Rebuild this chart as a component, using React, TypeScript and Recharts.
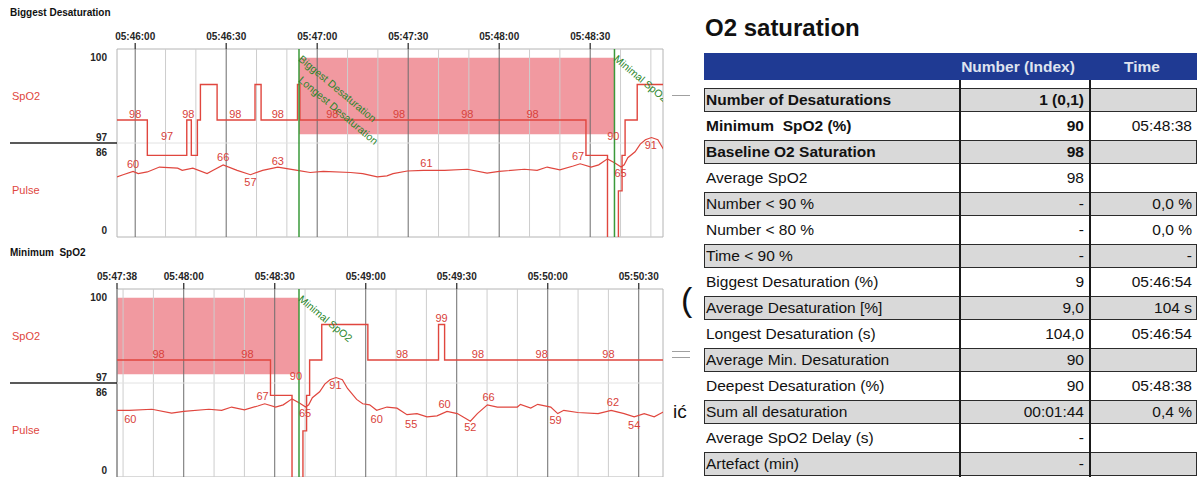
import React from 'react';
import { ComposedChart, Line, XAxis, YAxis, ReferenceLine, ReferenceArea, ReferenceDot } from 'recharts';

// ---------- data ----------
const spo2Times = ['05:45:54', '05:46:04', '05:46:17', '05:46:18.5', '05:46:20.5', '05:46:21.5', '05:46:27', '05:46:39.5', '05:46:41.5', '05:46:53.5', '05:46:54.3', '05:48:28.6', '05:48:35.7', '05:48:39.3', '05:48:40.5', '05:48:41.5', '05:48:45.5', '05:49:00.7', '05:49:24', '05:49:26', '05:50:38.5'];
const spo2Values = [98, 97, 98, 97, 98, 99, 98, 99, 98, 99, 98, 97, 90, 96, 97, 98, 99, 98, 99, 98, 98];

const pulseTimes = ['05:45:54', '05:45:56', '05:45:59.3', '05:46:01', '05:46:04', '05:46:08', '05:46:14', '05:46:15.5', '05:46:19', '05:46:23.7', '05:46:25.7', '05:46:29', '05:46:33.6', '05:46:38', '05:46:42', '05:46:47', '05:46:49', '05:46:53.5', '05:46:57.7', '05:47:02', '05:47:11', '05:47:15', '05:47:19.8', '05:47:23', '05:47:25', '05:47:29.7', '05:47:35', '05:47:42', '05:47:49.5', '05:47:56', '05:48:00', '05:48:08.3', '05:48:12.5', '05:48:15.8', '05:48:20', '05:48:24.4', '05:48:26.7', '05:48:30.3', '05:48:32.8', '05:48:35.7', '05:48:38', '05:48:40.2', '05:48:41.2', '05:48:42.4', '05:48:44.8', '05:48:46.5', '05:48:48.2', '05:48:50.2', '05:48:52.3', '05:48:54', '05:48:57', '05:48:59', '05:49:01.3', '05:49:03.6', '05:49:07', '05:49:10.3', '05:49:13.6', '05:49:16.9', '05:49:20.2', '05:49:23.5', '05:49:26.8', '05:49:30.2', '05:49:34.5', '05:49:36.8', '05:49:40.1', '05:49:43.4', '05:49:50', '05:49:51', '05:49:54.4', '05:49:56.7', '05:50:01', '05:50:03.3', '05:50:05.3', '05:50:09.9', '05:50:16.6', '05:50:20.9', '05:50:25.2', '05:50:28.5', '05:50:31.8', '05:50:35.1', '05:50:38.4'];
const pulseValues = [55, 57, 60, 58, 59.5, 64, 63, 61, 63, 58, 61, 66, 61, 57, 61, 64, 63, 61, 59, 60, 59, 58, 55, 56, 58, 60.4, 61, 61, 62, 58.5, 60, 62, 61, 64, 61.5, 65, 67, 64, 66, 71.5, 68, 64, 66, 72.5, 78, 85, 89, 91, 89, 81, 71, 67, 66, 61, 64, 63, 57, 58, 55, 56, 60, 58, 51, 58, 66, 64, 64, 66.5, 63, 66.5, 64, 58, 61, 59, 58, 61, 58, 55, 58, 55, 60];

const spo2Domain = [94.7, 100];
const pulseDomain = [0, 172];
const sectionBoundary = 86; // pulse value at the SpO2 / Pulse section border
const spo2AxisLabels = ['100', '97'];
const pulseAxisLabels = ['86', '0'];
const desatBand = { start: '05:46:54', end: '05:48:38', low: 97.6, high: 99.75 };

const topDomain = ['05:45:54', '05:48:54'];
const topTicks = ['05:46:00', '05:46:30', '05:47:00', '05:47:30', '05:48:00', '05:48:30'];
const topGrid = ['05:46:10', '05:46:20', '05:46:40', '05:46:50', '05:47:10', '05:47:20', '05:47:40', '05:47:50', '05:48:10', '05:48:20', '05:48:40', '05:48:50'];
const topMarkers = [
  { t: '05:46:54', lines: ['Biggest Desaturation', 'Longest Desaturation'] },
  { t: '05:48:38', lines: ['Minimal SpO2'] },
];
const topSpo2Labels = [
  { t: '05:46:00', v: 98 }, { t: '05:46:17.5', v: 98 }, { t: '05:46:33', v: 98 }, { t: '05:46:47', v: 98 },
  { t: '05:47:05', v: 98 }, { t: '05:47:27', v: 98 }, { t: '05:47:49.5', v: 98 }, { t: '05:48:11', v: 98 },
];
const topLimitLabels = [{ t: '05:46:10.5', text: '97' }, { t: '05:48:37.6', text: '90' }];
const topPulseAbove = [{ t: '05:45:59.3', v: 60 }, { t: '05:46:29', v: 66 }, { t: '05:46:47', v: 63 }, { t: '05:47:36', v: 61 }, { t: '05:48:26', v: 67 }];
const topPulseBelow = [{ t: '05:46:38', v: 57 }, { t: '05:48:40', v: 65 }, { t: '05:48:50', v: 91 }];

const botDomain = ['05:47:38', '05:50:38'];
const botTicks = ['05:47:38', '05:48:00', '05:48:30', '05:49:00', '05:49:30', '05:50:00', '05:50:30'];
const botGrid = ['05:47:40', '05:47:50', '05:48:10', '05:48:20', '05:48:40', '05:48:50', '05:49:10', '05:49:20', '05:49:40', '05:49:50', '05:50:10', '05:50:20'];
const botMarkers = [{ t: '05:48:38', lines: ['Minimal SpO2'] }];
const botSpo2Labels = [
  { t: '05:47:51.7', v: 98 }, { t: '05:48:21', v: 98 }, { t: '05:49:12', v: 98 }, { t: '05:49:25', v: 99 },
  { t: '05:49:37', v: 98 }, { t: '05:49:58', v: 98 }, { t: '05:50:20', v: 98 },
];
const botLimitLabels = [{ t: '05:48:37', text: '90' }];
const botPulseAbove = [{ t: '05:48:26', v: 67 }, { t: '05:49:26', v: 60 }, { t: '05:49:40.5', v: 66 }, { t: '05:50:21.5', v: 62 }];
const botPulseBelow = [
  { t: '05:47:42.4', v: 60 }, { t: '05:48:40', v: 65 }, { t: '05:48:50', v: 91 }, { t: '05:49:03.6', v: 60 },
  { t: '05:49:15', v: 55 }, { t: '05:49:34.5', v: 52 }, { t: '05:50:02.6', v: 59 }, { t: '05:50:28.5', v: 54 },
];

// table
const tableTitle = 'O2 saturation';
const tableHeaders = ['Number (Index)', 'Time'];
const rowLabels = ['Number of Desaturations', 'Minimum  SpO2 (%)', 'Baseline O2 Saturation', 'Average SpO2', 'Number < 90 %', 'Number < 80 %', 'Time < 90 %', 'Biggest Desaturation (%)', 'Average Desaturation [%]', 'Longest Desaturation (s)', 'Average Min. Desaturation', 'Deepest Desaturation (%)', 'Sum all desaturation', 'Average SpO2 Delay (s)', 'Artefact (min)'];
const rowNumbers = ['1 (0,1)', '90', '98', '98', '-', '-', '-', '9', '9,0', '104,0', '90', '90', '00:01:44', '-', '-'];
const rowTimes = ['', '05:48:38', '', '', '0,0 %', '0,0 %', '-', '05:46:54', '104 s', '05:46:54', '', '05:48:38', '0,4 %', '', ''];
const boldRowCount = 3;

// ---------- helpers ----------
const toSec = (s: string) => {
  const [h, m, sec] = s.split(':');
  return Number(h) * 3600 + Number(m) * 60 + parseFloat(sec);
};
const fmt = (v: number) => {
  const r = Math.round(v);
  const h = Math.floor(r / 3600);
  const m = Math.floor((r % 3600) / 60);
  const s = r % 60;
  return [h, m, s].map((n) => String(n).padStart(2, '0')).join(':');
};

const spo2Data = spo2Times.map((t, i) => ({ t: toSec(t), v: spo2Values[i] }));
const pulseData = pulseTimes.map((t, i) => ({ t: toSec(t), v: pulseValues[i] }));

const FONT = '"Liberation Sans", Arial, Helvetica, sans-serif';
const RED = '#e0463e';
const LABEL_RED = '#d8413a';
const GREEN = '#3a9a3a';
const CH_W = 680;
const CH_H = 240;
const M_RIGHT = 17;
const M_BOTTOM = 3;
const X_H = 49;
const Y_W = 117;

const SectionTick = (props: any) => {
  const { y, payload } = props;
  const v = payload.value;
  const x = Y_W - 10;
  const common = { x, textAnchor: 'end' as const, fill: '#262626', fontSize: 10, fontWeight: 'bold' as const };
  if (v === pulseDomain[1]) return <text {...common} y={y + 12}>{spo2AxisLabels[0]}</text>;
  if (v === sectionBoundary)
    return (
      <g>
        <line x1={10} x2={Y_W} y1={y} y2={y} stroke="#222" strokeWidth={1.5} />
        <text {...common} y={y - 2}>{spo2AxisLabels[1]}</text>
        <text {...common} y={y + 13}>{pulseAxisLabels[0]}</text>
      </g>
    );
  if (v === 0) return <text {...common} y={y - 3}>{pulseAxisLabels[1]}</text>;
  return null;
};

const MarkerLabel = ({ viewBox, lines, clipId }: any) => {
  if (!viewBox) return null;
  const { x, y } = viewBox;
  const plotW = CH_W - M_RIGHT - Y_W;
  const plotH = CH_H - M_BOTTOM - X_H;
  return (
    <g>
      <defs>
        <clipPath id={clipId}>
          <rect x={Y_W} y={X_H} width={plotW} height={plotH} />
        </clipPath>
      </defs>
      <g clipPath={`url(#${clipId})`}>
        {lines.map((txt: string, i: number) => {
          const ax = x + 4;
          const ay = y + 5 + i * 21;
          return (
            <text key={i} x={ax} y={ay} dominantBaseline="hanging" transform={`rotate(40 ${ax} ${ay})`} fill="#2a862a" fontSize={10.5}>
              {txt}
            </text>
          );
        })}
      </g>
    </g>
  );
};

type Lab = { t: string; v: number };
type LimLab = { t: string; text: string };

function TraceChart(props: {
  id: string;
  domain: string[];
  ticks: string[];
  grid: string[];
  markers: { t: string; lines: string[] }[];
  spo2Labels: Lab[];
  limitLabels: LimLab[];
  pulseAbove: Lab[];
  pulseBelow: Lab[];
}) {
  const d0 = toSec(props.domain[0]);
  const d1 = toSec(props.domain[1]);
  const bandX1 = Math.max(toSec(desatBand.start), d0);
  const bandX2 = Math.min(toSec(desatBand.end), d1);
  const labelStyle = { fill: LABEL_RED, fontSize: 11 };
  return (
    <ComposedChart width={CH_W} height={CH_H} margin={{ top: 0, right: M_RIGHT, bottom: M_BOTTOM, left: 0 }}>
      <XAxis
        xAxisId="t"
        type="number"
        dataKey="t"
        orientation="top"
        domain={[d0, d1]}
        allowDataOverflow
        ticks={props.ticks.map(toSec)}
        interval={0}
        tickFormatter={fmt}
        height={X_H}
        axisLine={false}
        tickSize={6}
        tickMargin={3}
        tickLine={{ stroke: '#333', strokeWidth: 1.3 }}
        tick={{ fill: '#262626', fontSize: 10, fontWeight: 'bold' }}
      />
      <YAxis
        yAxisId="pulse"
        type="number"
        orientation="left"
        domain={pulseDomain}
        allowDataOverflow
        ticks={[0, sectionBoundary, pulseDomain[1]]}
        interval={0}
        width={Y_W}
        axisLine={false}
        tickLine={false}
        tick={<SectionTick />}
      />
      <YAxis yAxisId="spo2" type="number" domain={spo2Domain} allowDataOverflow hide />

      {props.grid.map((g) => (
        <ReferenceLine key={'g' + g} xAxisId="t" yAxisId="pulse" x={toSec(g)} stroke="#cdcdcd" strokeWidth={1} />
      ))}
      {props.ticks.map((g) => (
        <ReferenceLine key={'m' + g} xAxisId="t" yAxisId="pulse" x={toSec(g)} stroke="#6c6c6c" strokeWidth={1} />
      ))}
      <ReferenceLine xAxisId="t" yAxisId="pulse" y={sectionBoundary} stroke="#e2e2e2" strokeWidth={1} />
      {bandX2 > bandX1 && (
        <ReferenceArea
          xAxisId="t"
          yAxisId="spo2"
          x1={bandX1}
          x2={bandX2}
          y1={desatBand.low}
          y2={desatBand.high}
          fill="#ec7780"
          fillOpacity={0.75}
          stroke="none"
        />
      )}
      <ReferenceArea xAxisId="t" yAxisId="pulse" x1={d0} x2={d1} y1={pulseDomain[0]} y2={pulseDomain[1]} fill="none" stroke="#b4b4b4" strokeWidth={1} />

      <Line xAxisId="t" yAxisId="pulse" data={pulseData} dataKey="v" type="linear" stroke={RED} strokeWidth={1.2} dot={false} activeDot={false} isAnimationActive={false} />
      <Line xAxisId="t" yAxisId="spo2" data={spo2Data} dataKey="v" type="stepAfter" stroke={RED} strokeWidth={1.4} dot={false} activeDot={false} isAnimationActive={false} />

      {props.markers.map((m) => (
        <ReferenceLine
          key={'k' + m.t}
          xAxisId="t"
          yAxisId="pulse"
          x={toSec(m.t)}
          stroke={GREEN}
          strokeWidth={1.5}
          label={(p: any) => <MarkerLabel viewBox={p.viewBox} lines={m.lines} clipId={props.id + 'clip'} />}
        />
      ))}

      {props.spo2Labels.map((l, i) => (
        <ReferenceDot key={'s' + i} xAxisId="t" yAxisId="spo2" x={toSec(l.t)} y={l.v} r={0} stroke="none" fill="none"
          label={{ value: String(l.v), position: 'top', offset: 2, ...labelStyle }} />
      ))}
      {props.limitLabels.map((l, i) => (
        <ReferenceDot key={'l' + i} xAxisId="t" yAxisId="pulse" x={toSec(l.t)} y={sectionBoundary} r={0} stroke="none" fill="none"
          label={{ value: l.text, position: 'top', offset: 3.5, ...labelStyle }} />
      ))}
      {props.pulseAbove.map((l, i) => (
        <ReferenceDot key={'pa' + i} xAxisId="t" yAxisId="pulse" x={toSec(l.t)} y={l.v} r={0} stroke="none" fill="none"
          label={{ value: String(l.v), position: 'top', offset: 3.5, ...labelStyle }} />
      ))}
      {props.pulseBelow.map((l, i) => (
        <ReferenceDot key={'pb' + i} xAxisId="t" yAxisId="pulse" x={toSec(l.t)} y={l.v} r={0} stroke="none" fill="none"
          label={{ value: String(l.v), position: 'bottom', offset: 3.5, ...labelStyle }} />
      ))}
    </ComposedChart>
  );
}

const abs = (left: number, top: number, extra: React.CSSProperties = {}): React.CSSProperties => ({ position: 'absolute', left, top, ...extra });

function Panel({ top, title, children }: { top: number; title: string; children: React.ReactNode }) {
  return (
    <div style={abs(0, top, { width: CH_W, height: CH_H })}>
      <div style={abs(10, 6, { fontSize: 10, fontWeight: 'bold', color: '#111', whiteSpace: 'pre', lineHeight: '14px' })}>{title}</div>
      <div style={abs(12, 89, { fontSize: 11, color: RED, lineHeight: '14px' })}>SpO2</div>
      <div style={abs(12, 183, { fontSize: 11, color: RED, lineHeight: '14px' })}>Pulse</div>
      <div style={abs(0, 0)}>{children}</div>
    </div>
  );
}

const T_LEFT = 704;
const T_W = 493;
const COL1 = 960;
const COL2 = 1090;

export default function App() {
  return (
    <div style={{ position: 'fixed', left: 0, top: 0, width: 1200, height: 477, overflow: 'hidden', background: '#fff', fontFamily: FONT }}>
      <Panel top={0} title="Biggest Desaturation">
        <TraceChart id="top" domain={topDomain} ticks={topTicks} grid={topGrid} markers={topMarkers}
          spo2Labels={topSpo2Labels} limitLabels={topLimitLabels} pulseAbove={topPulseAbove} pulseBelow={topPulseBelow} />
      </Panel>
      <Panel top={240} title="Minimum  SpO2">
        <TraceChart id="bot" domain={botDomain} ticks={botTicks} grid={botGrid} markers={botMarkers}
          spo2Labels={botSpo2Labels} limitLabels={botLimitLabels} pulseAbove={botPulseAbove} pulseBelow={botPulseBelow} />
      </Panel>

      {/* stray page fragments */}
      <div style={abs(672, 95, { width: 18, height: 1, background: '#a0a0a0' })} />
      <div style={abs(672, 351, { width: 18, height: 1, background: '#a0a0a0' })} />
      <div style={abs(672, 357, { width: 18, height: 1, background: '#a0a0a0' })} />
      <div style={abs(681, 279, { fontSize: 34, color: '#111', lineHeight: '40px' })}>(</div>
      <div style={abs(673, 400, { fontSize: 19, color: '#111', lineHeight: '24px' })}>ić</div>

      {/* table */}
      <div style={abs(705, 14, { fontSize: 24, fontWeight: 'bold', color: '#111', lineHeight: '28px' })}>{tableTitle}</div>
      <div style={abs(T_LEFT, 53, { width: T_W, height: 27, background: '#1f3a93' })} />
      <div style={abs(950, 53, { width: 136, height: 27, lineHeight: '27px', textAlign: 'center', color: '#dfe3ef', fontWeight: 'bold', fontSize: 15.5 })}>{tableHeaders[0]}</div>
      <div style={abs(COL2, 53, { width: 104, height: 27, lineHeight: '27px', textAlign: 'center', color: '#dfe3ef', fontWeight: 'bold', fontSize: 15.5 })}>{tableHeaders[1]}</div>

      {rowLabels.map((lab, i) => {
        const top = 100 + 26 * i - 12;
        const gray = i % 2 === 0;
        const bold = i < boldRowCount;
        const txt: React.CSSProperties = { position: 'absolute', top: 0, height: 24, lineHeight: '24px', fontSize: 15.5, color: '#111', whiteSpace: 'pre' };
        return (
          <div key={i} style={abs(T_LEFT, top, { width: T_W, height: 24 })}>
            {gray && <div style={abs(0, 0, { width: T_W, height: 24, background: '#d9d9d9', border: '1.5px solid #2b2b2b', boxSizing: 'border-box' })} />}
            <div style={{ ...txt, left: 2, fontWeight: bold ? 'bold' : 'normal' }}>{lab}</div>
            <div style={{ ...txt, left: COL1 - T_LEFT, width: COL2 - COL1 - 6, textAlign: 'right', fontWeight: bold ? 'bold' : 'normal' }}>{rowNumbers[i]}</div>
            <div style={{ ...txt, left: COL2 - T_LEFT, width: T_LEFT + T_W - COL2 - 5, textAlign: 'right' }}>{rowTimes[i]}</div>
          </div>
        );
      })}
      <div style={abs(COL1 - 1, 80, { width: 2, height: 397, background: '#1a1a1a' })} />
      <div style={abs(COL2 - 1, 80, { width: 2, height: 397, background: '#1a1a1a' })} />
    </div>
  );
}
